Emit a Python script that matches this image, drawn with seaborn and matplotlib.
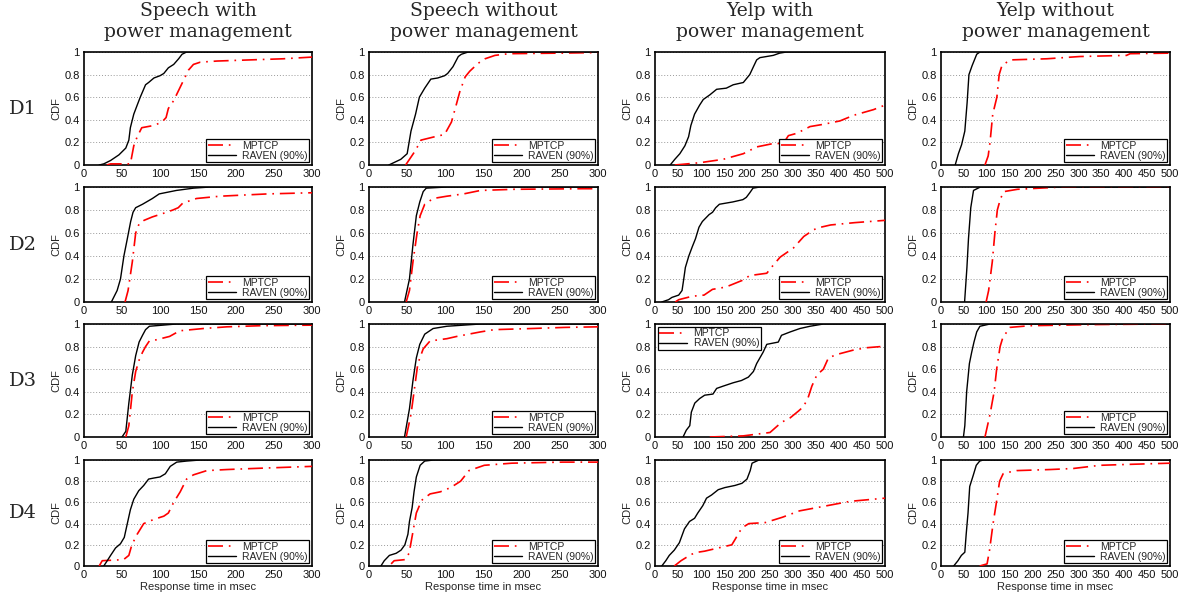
import matplotlib
matplotlib.use("Agg")
import matplotlib.pyplot as plt
import seaborn as sns
import pandas as pd

sns.set_theme(style="white")
plt.rcParams['font.family'] = ['Liberation Sans', 'DejaVu Sans']

# ---------------- labels ----------------
COLUMN_TITLES = ["Speech with\npower management", "Speech without\npower management",
                 "Yelp with\npower management", "Yelp without\npower management"]
ROW_LABELS = ["D1", "D2", "D3", "D4"]
SERIES = ["MPTCP", "RAVEN (90%)"]
X_LABEL = "Response time in msec"
Y_LABEL = "CDF"
XMAX_BY_COLUMN = [300, 300, 500, 500]
XTICKS_SPEECH = [0, 50, 100, 150, 200, 250, 300]
XTICKS_YELP = [0, 50, 100, 150, 200, 250, 300, 350, 400, 450, 500]
YTICKS = [0, 0.2, 0.4, 0.6, 0.8, 1.0]
YTICK_LABELS = ["0", "0.2", "0.4", "0.6", "0.8", "1"]

# ---------------- data (response time msec, CDF) ----------------
# Speech with power management
SPW_D1_RAVEN_X = [20, 26, 35, 46, 55, 59, 61, 65.5, 70, 74, 81, 85, 92, 100, 105, 111, 118, 124.5, 129, 135, 300]
SPW_D1_RAVEN_Y = [0, 0.01, 0.04, 0.09, 0.15, 0.22, 0.33, 0.45, 0.53, 0.6, 0.71, 0.73, 0.77, 0.79, 0.81, 0.86, 0.89, 0.94, 0.98, 1.0, 1.0]
SPW_D1_MPTCP_X = [30, 35, 61, 65.5, 70, 76, 92, 102.6, 108, 111, 118, 124.5, 131, 137.5, 144, 153, 175, 218, 262, 300]
SPW_D1_MPTCP_Y = [0, 0.01, 0.01, 0.17, 0.25, 0.33, 0.35, 0.38, 0.42, 0.5, 0.57, 0.66, 0.75, 0.84, 0.89, 0.91, 0.92, 0.93, 0.94, 0.955]

SPW_D2_RAVEN_X = [36, 43.6, 48, 52.5, 57, 61.4, 64.5, 68, 77, 90, 99, 121.5, 144, 166, 300]
SPW_D2_RAVEN_Y = [0, 0.1, 0.2, 0.4, 0.55, 0.7, 0.78, 0.82, 0.85, 0.9, 0.94, 0.97, 0.99, 1.0, 1.0]
SPW_D2_MPTCP_X = [54, 58, 63.6, 68, 72.5, 79, 90, 104, 117, 124, 130, 148, 179, 210, 242, 300]
SPW_D2_MPTCP_Y = [0, 0.1, 0.35, 0.6, 0.68, 0.71, 0.74, 0.77, 0.8, 0.82, 0.86, 0.9, 0.92, 0.93, 0.94, 0.95]

SPW_D3_RAVEN_X = [50, 55, 59, 63.6, 68, 72.5, 77, 81, 86, 104, 121.5, 300]
SPW_D3_RAVEN_Y = [0, 0.05, 0.3, 0.55, 0.72, 0.84, 0.9, 0.95, 0.98, 0.99, 1.0, 1.0]
SPW_D3_MPTCP_X = [55, 59, 63.6, 68, 72.5, 77, 81, 86, 95, 112.6, 126, 157, 188, 233, 300]
SPW_D3_MPTCP_Y = [0, 0.1, 0.4, 0.58, 0.68, 0.75, 0.8, 0.85, 0.86, 0.89, 0.94, 0.96, 0.975, 0.985, 0.99]

SPW_D4_RAVEN_X = [26, 30.6, 35, 41.5, 48, 53, 57, 61, 65.5, 72, 78.6, 85, 92, 100, 107, 113.5, 122, 135, 153, 300]
SPW_D4_RAVEN_Y = [0, 0.05, 0.1, 0.17, 0.21, 0.27, 0.4, 0.53, 0.63, 0.71, 0.76, 0.82, 0.83, 0.84, 0.87, 0.94, 0.98, 0.99, 1.0, 1.0]
SPW_D4_MPTCP_X = [20, 24, 52, 59, 63, 70, 78.6, 92, 105, 111, 118, 126.6, 135, 144, 161.6, 188, 223, 300]
SPW_D4_MPTCP_Y = [0, 0.05, 0.06, 0.1, 0.2, 0.3, 0.4, 0.44, 0.47, 0.5, 0.6, 0.7, 0.82, 0.86, 0.9, 0.91, 0.92, 0.94]

# Speech without power management
SPN_D1_RAVEN_X = [26, 41.6, 50, 55, 61, 66, 73, 81, 90, 99, 103, 110, 117, 121, 130, 300]
SPN_D1_RAVEN_Y = [0, 0.05, 0.1, 0.3, 0.45, 0.6, 0.68, 0.76, 0.77, 0.79, 0.81, 0.87, 0.96, 0.98, 1.0, 1.0]
SPN_D1_MPTCP_X = [48, 61, 68, 86, 99, 108, 115, 119, 126, 132, 143, 152, 165, 183, 250, 300]
SPN_D1_MPTCP_Y = [0, 0.13, 0.22, 0.25, 0.27, 0.38, 0.55, 0.65, 0.78, 0.83, 0.9, 0.94, 0.97, 0.985, 0.99, 0.995]

SPN_D2_RAVEN_X = [46.5, 53, 57.6, 62, 66.5, 71, 75, 102, 300]
SPN_D2_RAVEN_Y = [0, 0.2, 0.5, 0.75, 0.87, 0.96, 0.99, 1.0, 1.0]
SPN_D2_MPTCP_X = [48.7, 53, 57.6, 63, 67, 73, 84, 102, 124, 146, 190, 279, 300]
SPN_D2_MPTCP_Y = [0, 0.1, 0.35, 0.6, 0.75, 0.85, 0.9, 0.92, 0.94, 0.97, 0.98, 0.985, 0.985]

SPN_D3_RAVEN_X = [46.5, 53, 57.6, 62, 66.5, 73, 84, 102, 146, 300]
SPN_D3_RAVEN_Y = [0, 0.25, 0.5, 0.7, 0.82, 0.91, 0.96, 0.98, 1.0, 1.0]
SPN_D3_MPTCP_X = [48.7, 55, 60, 64, 71, 80, 102, 115, 146, 164, 213, 257, 300]
SPN_D3_MPTCP_Y = [0, 0.2, 0.45, 0.65, 0.78, 0.85, 0.87, 0.89, 0.93, 0.95, 0.96, 0.97, 0.975]

SPN_D4_RAVEN_X = [15.6, 20, 26.7, 35.6, 42, 47, 51, 53, 56.5, 59, 62, 67, 73, 84.5, 300]
SPN_D4_RAVEN_Y = [0, 0.05, 0.1, 0.12, 0.15, 0.2, 0.3, 0.42, 0.55, 0.7, 0.84, 0.95, 0.99, 1.0, 1.0]
SPN_D4_MPTCP_X = [29, 33, 47, 52.5, 57, 62, 69, 80, 93.5, 107, 120, 131, 151, 187, 254, 300]
SPN_D4_MPTCP_Y = [0.02, 0.05, 0.06, 0.12, 0.3, 0.5, 0.62, 0.68, 0.7, 0.74, 0.8, 0.9, 0.95, 0.97, 0.98, 0.98]

# Yelp with power management
YPW_D1_RAVEN_X = [33, 43, 54, 65, 73, 78, 86, 97, 105, 119, 134, 155, 170, 192, 206, 214, 221, 228, 257, 271, 286, 500]
YPW_D1_RAVEN_Y = [0, 0.05, 0.1, 0.17, 0.25, 0.35, 0.45, 0.53, 0.58, 0.62, 0.67, 0.68, 0.71, 0.73, 0.8, 0.87, 0.93, 0.95, 0.97, 0.99, 1.0, 1.0]
YPW_D1_MPTCP_X = [43, 97, 148, 192, 221, 257, 279, 290, 308, 337, 366, 402, 432, 475, 500]
YPW_D1_MPTCP_Y = [0, 0.02, 0.05, 0.1, 0.16, 0.19, 0.19, 0.26, 0.28, 0.34, 0.36, 0.39, 0.44, 0.49, 0.53]

YPW_D2_RAVEN_X = [14.7, 29.4, 36.8, 51.5, 58.8, 62.5, 66, 73.5, 81, 88, 95.6, 103, 117.6, 125, 132, 140, 169, 191, 198.5, 206, 213, 228, 500]
YPW_D2_RAVEN_Y = [0, 0.02, 0.04, 0.06, 0.1, 0.2, 0.3, 0.4, 0.48, 0.55, 0.65, 0.7, 0.76, 0.78, 0.82, 0.85, 0.87, 0.89, 0.91, 0.95, 0.99, 1.0, 1.0]
YPW_D2_MPTCP_X = [44, 51.5, 81, 106.6, 125, 154, 191, 206, 243, 257, 272, 301, 323.5, 345.6, 360, 382, 434, 500]
YPW_D2_MPTCP_Y = [0, 0.02, 0.05, 0.06, 0.11, 0.13, 0.19, 0.23, 0.25, 0.32, 0.39, 0.47, 0.57, 0.63, 0.65, 0.67, 0.69, 0.71]

YPW_D3_RAVEN_X = [61, 68, 75.6, 79, 86.5, 97, 108, 126, 134, 148, 170, 188, 203, 214, 221, 228, 235, 243, 268, 275, 294, 315, 337, 366, 500]
YPW_D3_RAVEN_Y = [0, 0.06, 0.1, 0.22, 0.3, 0.34, 0.37, 0.38, 0.43, 0.45, 0.48, 0.5, 0.53, 0.58, 0.65, 0.7, 0.75, 0.82, 0.84, 0.9, 0.93, 0.96, 0.98, 1.0, 1.0]
YPW_D3_MPTCP_X = [119, 192, 250, 275, 294, 312, 323, 333, 341, 352, 366, 377, 395, 432, 460, 490]
YPW_D3_MPTCP_Y = [0, 0.01, 0.04, 0.13, 0.17, 0.23, 0.27, 0.35, 0.45, 0.55, 0.6, 0.7, 0.73, 0.77, 0.79, 0.8]

YPW_D4_RAVEN_X = [14.7, 23.5, 31, 42, 53, 64, 75, 86, 93, 104, 112, 123, 137.5, 152, 174, 189, 200, 207, 211, 226, 500]
YPW_D4_RAVEN_Y = [0, 0.05, 0.1, 0.15, 0.22, 0.35, 0.42, 0.45, 0.5, 0.57, 0.64, 0.67, 0.72, 0.74, 0.76, 0.78, 0.82, 0.9, 0.97, 1.0, 1.0]
YPW_D4_MPTCP_X = [42, 56.6, 79, 93, 108, 167, 174, 189, 204, 240, 277, 314, 351, 387.5, 424, 500]
YPW_D4_MPTCP_Y = [0, 0.05, 0.11, 0.13, 0.14, 0.2, 0.25, 0.36, 0.4, 0.41, 0.46, 0.52, 0.55, 0.58, 0.61, 0.64]

# Yelp without power management
YPN_D1_RAVEN_X = [31, 38, 45, 52, 57, 61, 68, 78, 85, 500]
YPN_D1_RAVEN_Y = [0, 0.1, 0.18, 0.3, 0.55, 0.8, 0.88, 0.98, 1.0, 1.0]
YPN_D1_MPTCP_X = [96, 103, 107, 113, 122, 127, 133, 151, 231, 303, 405, 413, 500]
YPN_D1_MPTCP_Y = [0, 0.08, 0.2, 0.45, 0.6, 0.8, 0.88, 0.93, 0.94, 0.96, 0.97, 0.985, 0.99]

YPN_D2_RAVEN_X = [51.5, 56.6, 60, 65, 71, 86, 500]
YPN_D2_RAVEN_Y = [0, 0.3, 0.55, 0.82, 0.97, 1.0, 1.0]
YPN_D2_MPTCP_X = [98.5, 104, 112, 117.6, 123, 130, 137.5, 167, 240, 262, 500]
YPN_D2_MPTCP_Y = [0, 0.1, 0.35, 0.6, 0.8, 0.9, 0.96, 0.98, 0.995, 1.0, 1.0]

YPN_D3_RAVEN_X = [49, 52, 56, 62, 67, 72, 78, 85, 107, 500]
YPN_D3_RAVEN_Y = [0, 0.1, 0.4, 0.65, 0.75, 0.84, 0.93, 0.98, 1.0, 1.0]
YPN_D3_MPTCP_X = [96, 107, 116, 121.5, 129, 135, 150.6, 194, 267, 340, 485, 500]
YPN_D3_MPTCP_Y = [0, 0.2, 0.4, 0.6, 0.8, 0.88, 0.97, 0.985, 0.99, 0.995, 1.0, 1.0]

YPN_D4_RAVEN_X = [27.7, 37, 44.5, 52, 55, 59, 62.7, 70, 77, 84.5, 92, 500]
YPN_D4_RAVEN_Y = [0, 0.05, 0.1, 0.13, 0.3, 0.5, 0.75, 0.85, 0.95, 0.99, 1.0, 1.0]
YPN_D4_MPTCP_X = [84.5, 100.6, 106, 113.7, 121, 128, 135.6, 143, 165, 238, 289, 347, 420, 500]
YPN_D4_MPTCP_Y = [0, 0.02, 0.15, 0.4, 0.6, 0.8, 0.87, 0.88, 0.9, 0.91, 0.92, 0.95, 0.96, 0.97]

# lookup table built from the named lists: [row][col] -> (mptcp x, mptcp y, raven x, raven y)
PANELS = [
    [(SPW_D1_MPTCP_X, SPW_D1_MPTCP_Y, SPW_D1_RAVEN_X, SPW_D1_RAVEN_Y),
     (SPN_D1_MPTCP_X, SPN_D1_MPTCP_Y, SPN_D1_RAVEN_X, SPN_D1_RAVEN_Y),
     (YPW_D1_MPTCP_X, YPW_D1_MPTCP_Y, YPW_D1_RAVEN_X, YPW_D1_RAVEN_Y),
     (YPN_D1_MPTCP_X, YPN_D1_MPTCP_Y, YPN_D1_RAVEN_X, YPN_D1_RAVEN_Y)],
    [(SPW_D2_MPTCP_X, SPW_D2_MPTCP_Y, SPW_D2_RAVEN_X, SPW_D2_RAVEN_Y),
     (SPN_D2_MPTCP_X, SPN_D2_MPTCP_Y, SPN_D2_RAVEN_X, SPN_D2_RAVEN_Y),
     (YPW_D2_MPTCP_X, YPW_D2_MPTCP_Y, YPW_D2_RAVEN_X, YPW_D2_RAVEN_Y),
     (YPN_D2_MPTCP_X, YPN_D2_MPTCP_Y, YPN_D2_RAVEN_X, YPN_D2_RAVEN_Y)],
    [(SPW_D3_MPTCP_X, SPW_D3_MPTCP_Y, SPW_D3_RAVEN_X, SPW_D3_RAVEN_Y),
     (SPN_D3_MPTCP_X, SPN_D3_MPTCP_Y, SPN_D3_RAVEN_X, SPN_D3_RAVEN_Y),
     (YPW_D3_MPTCP_X, YPW_D3_MPTCP_Y, YPW_D3_RAVEN_X, YPW_D3_RAVEN_Y),
     (YPN_D3_MPTCP_X, YPN_D3_MPTCP_Y, YPN_D3_RAVEN_X, YPN_D3_RAVEN_Y)],
    [(SPW_D4_MPTCP_X, SPW_D4_MPTCP_Y, SPW_D4_RAVEN_X, SPW_D4_RAVEN_Y),
     (SPN_D4_MPTCP_X, SPN_D4_MPTCP_Y, SPN_D4_RAVEN_X, SPN_D4_RAVEN_Y),
     (YPW_D4_MPTCP_X, YPW_D4_MPTCP_Y, YPW_D4_RAVEN_X, YPW_D4_RAVEN_Y),
     (YPN_D4_MPTCP_X, YPN_D4_MPTCP_Y, YPN_D4_RAVEN_X, YPN_D4_RAVEN_Y)],
]

# ---------------- layout (pixels) ----------------
W, H = 1192, 600
COL_LEFT = [84, 369, 655, 941]
COL_RIGHT = [312, 598, 885, 1170]
ROW_TOP = [52, 187, 324, 460]
ROW_BOTTOM = [165, 302, 437, 566]

MPTCP_COLOR = "#ff0000"
RAVEN_COLOR = "#000000"
MPTCP_DASH = (0, (9, 3.5, 1, 3.5))

fig = plt.figure(figsize=(W / 100, H / 100), dpi=100)
fig.patch.set_facecolor("white")

for r in range(4):
    for c in range(4):
        l, rr = COL_LEFT[c], COL_RIGHT[c]
        t, b = ROW_TOP[r], ROW_BOTTOM[r]
        ax = fig.add_axes([l / W, 1 - b / H, (rr - l) / W, (b - t) / H])
        mx, my, rx, ry = PANELS[r][c]
        dfm = pd.DataFrame({"x": mx, "y": my})
        dfr = pd.DataFrame({"x": rx, "y": ry})
        sns.lineplot(data=dfm, x="x", y="y", ax=ax, sort=False, estimator=None,
                     color=MPTCP_COLOR, linewidth=1.2, linestyle=MPTCP_DASH,
                     label=SERIES[0], legend=False, zorder=3)
        sns.lineplot(data=dfr, x="x", y="y", ax=ax, sort=False, estimator=None,
                     color=RAVEN_COLOR, linewidth=1.0, label=SERIES[1],
                     legend=False, zorder=4)
        xmax = XMAX_BY_COLUMN[c]
        ax.set_xlim(0, xmax)
        ax.set_ylim(0, 1)
        ax.set_xticks(XTICKS_SPEECH if xmax == 300 else XTICKS_YELP)
        ax.set_yticks(YTICKS)
        ax.set_yticklabels(YTICK_LABELS)
        ax.tick_params(axis="both", length=0, pad=3, labelsize=8, colors="#111111")
        ax.yaxis.grid(True, linestyle=(0, (1, 2)), color="#9a9a9a", linewidth=0.7)
        ax.xaxis.grid(False)
        ax.set_axisbelow(True)
        for s in ax.spines.values():
            s.set_visible(True)
            s.set_color("black")
            s.set_linewidth(1.2)
        ax.set_ylabel(Y_LABEL, fontsize=8, labelpad=2)
        if r == 3:
            ax.set_xlabel(X_LABEL, fontsize=8, labelpad=1)
        else:
            ax.set_xlabel("")
        lines = ax.get_lines()
        loc = "upper left" if (r == 2 and c == 2) else "lower right"
        leg = ax.legend(handles=lines[:2], labels=SERIES, loc=loc, fontsize=7.5,
                        frameon=True, fancybox=False, framealpha=1,
                        edgecolor="black", borderpad=0.15, labelspacing=0.0,
                        handlelength=2.7, handletextpad=0.6, borderaxespad=0.25)
        leg.get_frame().set_linewidth(0.9)

# column titles
for c in range(4):
    cx = (COL_LEFT[c] + COL_RIGHT[c]) / 2 / W
    fig.text(cx, 1 - 2 / H, COLUMN_TITLES[c], ha="center", va="top",
             fontsize=13.5, family="DejaVu Serif", linespacing=1.2)

# row labels
for r in range(4):
    cy = 1 - (ROW_TOP[r] + ROW_BOTTOM[r]) / 2 / H
    fig.text(9 / W, cy, ROW_LABELS[r], ha="left", va="center",
             fontsize=14, family="DejaVu Serif")

fig.savefig("out.png", dpi=100, facecolor="white")
